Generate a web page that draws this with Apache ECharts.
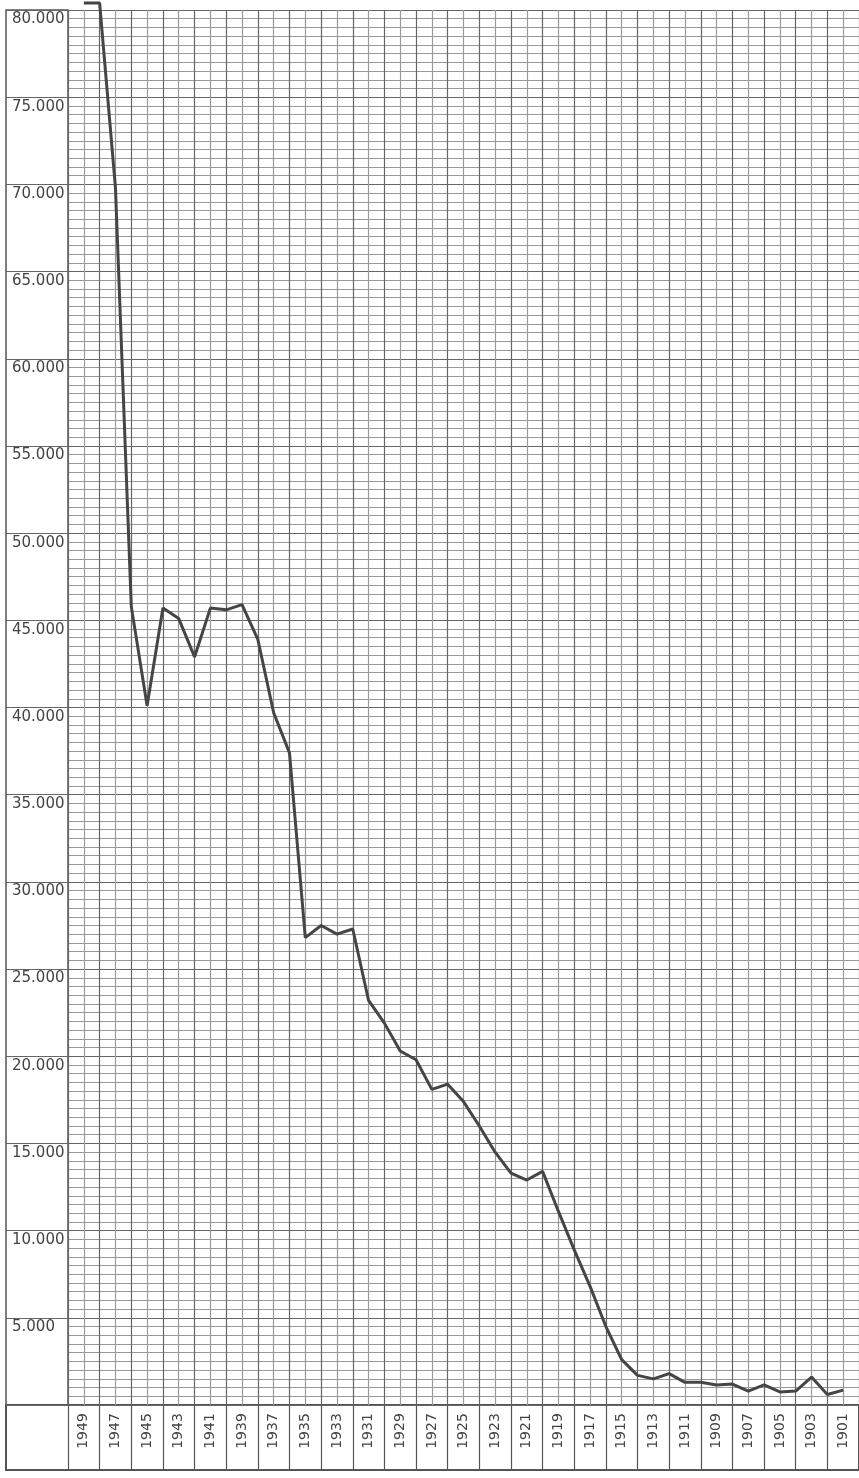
<!DOCTYPE html>
<html>
<head>
<meta charset="utf-8">
<script src="https://cdn.jsdelivr.net/npm/echarts@6/dist/echarts.min.js"></script>
<style>
  html, body { margin: 0; padding: 0; background: #fff; }
  #chart { width: 859px; height: 1478px; }
</style>
</head>
<body>
<div id="chart"></div>
<script>
// years, newest first (the paper runs right to left in time)
const years = [
  1949, 1948, 1947, 1946, 1945, 1944, 1943, 1942, 1941, 1940,
  1939, 1938, 1937, 1936, 1935, 1934, 1933, 1932, 1931, 1930,
  1929, 1928, 1927, 1926, 1925, 1924, 1923, 1922, 1921, 1920,
  1919, 1918, 1917, 1916, 1915, 1914, 1913, 1912, 1911, 1910,
  1909, 1908, 1907, 1906, 1905, 1904, 1903, 1902, 1901
];

const values = [
  80400, 80400, 69800, 45800, 40100, 45700, 45100, 42900, 45700, 45600,
  45900, 43900, 39700, 37400, 26800, 27500, 27000, 27300, 23200, 21900,
  20300, 19800, 18100, 18400, 17400, 16000, 14500, 13300, 12900, 13400,
  11100, 8900, 6800, 4500, 2600, 1700, 1500, 1800, 1300, 1300,
  1150, 1200, 800, 1150, 750, 800, 1600, 600, 850
];

// labels printed in the bottom strip
const yearLabels = [
  1949, 1947, 1945, 1943, 1941, 1939, 1937, 1935, 1933, 1931,
  1929, 1927, 1925, 1923, 1921, 1919, 1917, 1915, 1913, 1911,
  1909, 1907, 1905, 1903, 1901
];

// labels in the left column
const yLabels = [
  '5.000', '10.000', '15.000', '20.000', '25.000', '30.000', '35.000', '40.000',
  '45.000', '50.000', '55.000', '60.000', '65.000', '70.000', '75.000', '80.000'
];

const ink = '#454545';
const major = '#666';
const minor = '#9a9a9a';

// one dark line every 5.000, nine light ones in between
const hColors = [major].concat(new Array(9).fill(minor));

const chart = echarts.init(document.getElementById('chart'));

chart.setOption({
  animation: false,
  backgroundColor: '#fff',
  grid: [
    { left: 68, top: 10, width: 792, height: 1395 },
    { left: 6, top: 10, width: 62, height: 1395, show: true, borderColor: '#555', borderWidth: 1.5 },
    { left: 6, top: 1405, width: 854, height: 65, show: true, borderColor: '#555', borderWidth: 2 },
    { left: 68, top: 1405, width: 792, height: 65 }
  ],
  xAxis: [
    {
      gridIndex: 0, type: 'value', min: 1900, max: 1950, interval: 1, inverse: true,
      axisLine: { show: false }, axisTick: { show: false }, axisLabel: { show: false },
      splitLine: { show: true, lineStyle: { color: [major, minor], width: 1.2 } }
    },
    { gridIndex: 1, type: 'value', min: 0, max: 1, show: false },
    { gridIndex: 2, type: 'value', min: 0, max: 1, show: false },
    {
      gridIndex: 3, type: 'value', min: 1900, max: 1950, interval: 1, inverse: true,
      axisLine: { show: false }, axisTick: { show: false },
      splitLine: { show: true, lineStyle: { color: ['#555', 'rgba(0,0,0,0)'], width: 1.2 } },
      axisLabel: {
        inside: true, margin: 39, rotate: 90,
        align: 'center', verticalAlign: 'middle',
        fontFamily: 'DejaVu Sans', fontSize: 14, color: '#444',
        formatter: v => yearLabels.includes(v) ? String(v) : ''
      }
    }
  ],
  yAxis: [
    {
      gridIndex: 0, type: 'value', min: 0, max: 80000, interval: 500,
      axisLine: { show: false }, axisTick: { show: false }, axisLabel: { show: false },
      splitLine: { show: true, lineStyle: { color: hColors, width: 1 } }
    },
    {
      gridIndex: 1, type: 'value', min: 0, max: 80000, interval: 5000,
      axisLine: { show: false }, axisTick: { show: false },
      splitLine: { show: true, lineStyle: { color: major, width: 1.2 } },
      axisLabel: {
        inside: true, margin: 6, align: 'left', verticalAlign: 'top',
        padding: [2, 0, 0, 0],
        fontFamily: 'DejaVu Sans', fontSize: 15, color: '#444',
        formatter: v => v > 0 ? yLabels[v / 5000 - 1] : ''
      }
    },
    { gridIndex: 2, type: 'value', min: 0, max: 1, show: false },
    { gridIndex: 3, type: 'value', min: 0, max: 1, show: false }
  ],
  series: [
    {
      type: 'line',
      xAxisIndex: 0,
      yAxisIndex: 0,
      data: years.map((y, i) => [y, values[i]]),
      symbol: 'none',
      clip: false,
      lineStyle: { color: ink, width: 3 },
      z: 5
    }
  ]
});
</script>
</body>
</html>
